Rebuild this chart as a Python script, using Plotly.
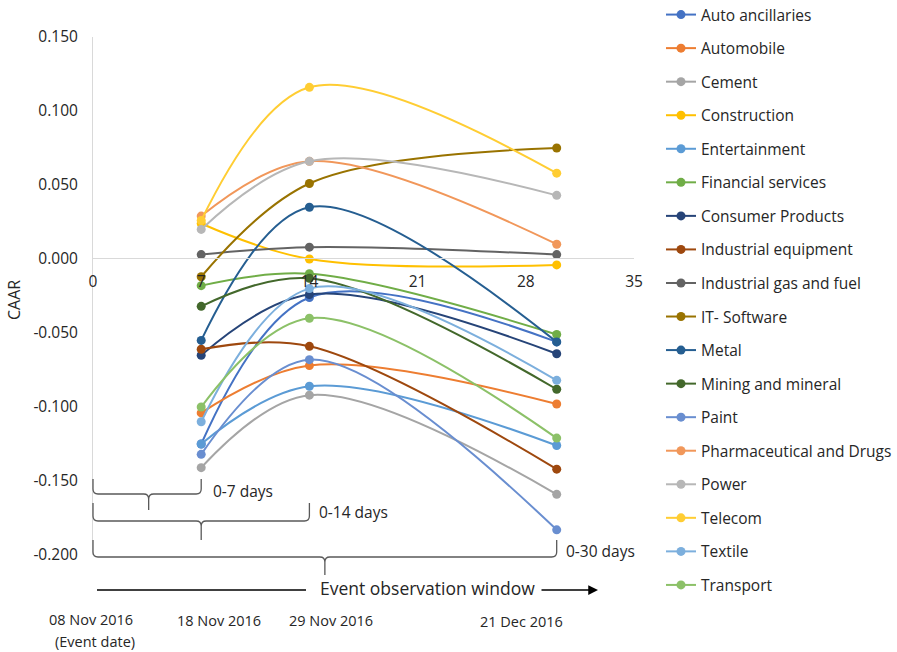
import plotly.graph_objects as go

# Event windows (days after the 08 Nov 2016 event date)
days = [7, 14, 30]

sectors = [
    "Auto ancillaries", "Automobile", "Cement", "Construction", "Entertainment",
    "Financial services", "Consumer Products", "Industrial equipment",
    "Industrial gas and fuel", "IT- Software", "Metal", "Mining and mineral",
    "Paint", "Pharmaceutical and Drugs", "Power", "Telecom", "Textile", "Transport",
]

# CAAR per sector at 7, 14 and 30 days
auto_ancillaries = [-0.125, -0.026, -0.056]
automobile = [-0.104, -0.072, -0.098]
cement = [-0.141, -0.092, -0.159]
construction = [0.024, 0.000, -0.004]
entertainment = [-0.125, -0.086, -0.126]
financial_services = [-0.018, -0.010, -0.051]
consumer_products = [-0.065, -0.024, -0.064]
industrial_equipment = [-0.061, -0.059, -0.142]
industrial_gas = [0.003, 0.008, 0.003]
it_software = [-0.012, 0.051, 0.075]
metal = [-0.055, 0.035, -0.056]
mining = [-0.032, -0.013, -0.088]
paint = [-0.132, -0.068, -0.183]
pharma = [0.029, 0.066, 0.010]
power = [0.020, 0.066, 0.043]
telecom = [0.026, 0.116, 0.058]
textile = [-0.110, -0.020, -0.082]
transport = [-0.100, -0.040, -0.121]

values = [
    auto_ancillaries, automobile, cement, construction, entertainment,
    financial_services, consumer_products, industrial_equipment, industrial_gas,
    it_software, metal, mining, paint, pharma, power, telecom, textile, transport,
]

colors = [
    "#4472C4", "#ED7D31", "#A5A5A5", "#FFC000", "#5B9BD5", "#70AD47",
    "#264478", "#9E480E", "#636363", "#997300", "#255E91", "#43682B",
    "#698ED0", "#F1975A", "#B7B7B7", "#FFCD33", "#7CAFDD", "#8CC168",
]

FONT = "Open Sans"
TXT = "#262626"

x_ticks = [0, 7, 14, 21, 28, 35]
y_ticks = [0.150, 0.100, 0.050, 0.000, -0.050, -0.100, -0.150, -0.200]

fig = go.Figure()
for name, vals, col in zip(sectors, values, colors):
    fig.add_trace(go.Scatter(
        x=days, y=vals, name=name, mode="lines+markers",
        line=dict(color=col, width=2, shape="spline", smoothing=1.0),
        marker=dict(color=col, size=9),
        legendgroup=name,
    ))

W, H = 897, 652
L, R, T, B = 93, 263, 37, 97
pw, ph = W - L - R, H - T - B
x_max = 35


def xp(day):
    return day / x_max


def yp(pix):
    # vertical offset in pixels from the top of the page -> paper units
    return (H - B - pix) / ph


def brace(d0, d1, dmid, top, mid, stem):
    a, b, m = xp(d0), xp(d1), xp(dmid)
    r = 5 / pw
    return (
        f"M {a:.4f},{yp(top):.4f} L {a:.4f},{yp(mid - 5):.4f} "
        f"Q {a:.4f},{yp(mid):.4f} {a + r:.4f},{yp(mid):.4f} "
        f"L {m - r:.4f},{yp(mid):.4f} Q {m:.4f},{yp(mid):.4f} {m:.4f},{yp(mid + 5):.4f} "
        f"L {m:.4f},{yp(stem):.4f} M {m:.4f},{yp(mid + 5):.4f} "
        f"Q {m:.4f},{yp(mid):.4f} {m + r:.4f},{yp(mid):.4f} "
        f"L {b - r:.4f},{yp(mid):.4f} Q {b:.4f},{yp(mid):.4f} {b:.4f},{yp(mid - 5):.4f} "
        f"L {b:.4f},{yp(top):.4f}"
    )


shapes = []
for d1, dmid, top, mid, stem in [(7, 3.6, 479, 494, 510), (14, 7, 503, 521, 540), (30, 15, 540, 557, 575)]:
    shapes.append(dict(type="path", xref="paper", yref="paper",
                       path=brace(0, d1, dmid, top, mid, stem),
                       line=dict(color="#595959", width=1.3)))

# observation window arrow
shapes.append(dict(type="line", xref="paper", yref="paper",
                   x0=(97 - L) / pw, x1=(306 - L) / pw, y0=yp(590), y1=yp(590),
                   line=dict(color="#000000", width=1.3)))

annotations = [
    dict(text="0-7 days", x=xp(7) + 10 / pw, y=yp(491), xanchor="left", size=15.5),
    dict(text="0-14 days", x=xp(14) + 8 / pw, y=yp(512), xanchor="left", size=15.5),
    dict(text="0-30 days", x=xp(30) + 7 / pw, y=yp(551), xanchor="left", size=15.5),
    dict(text="08 Nov 2016", x=(91 - L) / pw, y=yp(619), xanchor="center", size=14.5),
    dict(text="(Event date)", x=(95 - L) / pw, y=yp(641), xanchor="center", size=14.5),
    dict(text="18 Nov 2016", x=(219 - L) / pw, y=yp(620), xanchor="center", size=14.5),
    dict(text="29 Nov 2016", x=(331 - L) / pw, y=yp(620), xanchor="center", size=14.5),
    dict(text="21 Dec 2016", x=(521 - L) / pw, y=yp(621), xanchor="center", size=14.5),
]
for a in annotations:
    sz = a.pop("size")
    a.update(xref="paper", yref="paper", showarrow=False, yanchor="middle",
             font=dict(family=FONT, size=sz, color=TXT))

annotations.append(dict(text="Event observation window", xref="paper", yref="paper",
                        x=(318 - L) / pw, y=yp(588), xanchor="left", yanchor="middle",
                        showarrow=False, font=dict(family=FONT, size=17.5, color=TXT)))
annotations.append(dict(text="", xref="paper", yref="paper", axref="pixel", ayref="pixel",
                        x=(598 - L) / pw, y=yp(590), ax=-58, ay=0,
                        showarrow=True, arrowhead=2, arrowsize=1.5, arrowwidth=1.3,
                        arrowcolor="#000000"))
annotations.append(dict(text="CAAR", xref="paper", yref="paper", x=(14 - L) / pw,
                        y=yp(300), textangle=-90, showarrow=False, xanchor="center",
                        yanchor="middle", font=dict(family=FONT, size=16, color=TXT)))

fig.update_layout(
    width=W, height=H,
    margin=dict(l=L, r=R, t=T, b=B, autoexpand=False),
    paper_bgcolor="white", plot_bgcolor="white",
    font=dict(family=FONT, size=15, color=TXT),
    xaxis=dict(range=[0, x_max], tickvals=x_ticks, ticktext=[str(v) for v in x_ticks],
               showgrid=False, zeroline=False, showline=True, linecolor="#D9D9D9",
               linewidth=1, anchor="free", position=yp(258), ticks="",
               ticklabelstandoff=9, tickfont=dict(size=15.5, color=TXT)),
    yaxis=dict(range=[-0.200, 0.150], tickvals=y_ticks,
               ticktext=[f"{v:.3f}" for v in y_ticks],
               showgrid=False, zeroline=False, showline=True, linecolor="#D9D9D9",
               linewidth=1, ticks="", ticklabelstandoff=11,
               tickfont=dict(size=15.5, color=TXT)),
    legend=dict(x=(661 - L) / pw, y=yp(-2), xanchor="left", yanchor="top",
                tracegroupgap=10.4, maxheight=660,
                font=dict(family=FONT, size=15.5, color=TXT),
                bgcolor="rgba(0,0,0,0)"),
    shapes=shapes,
    annotations=annotations,
)

fig.write_html("out.html")
